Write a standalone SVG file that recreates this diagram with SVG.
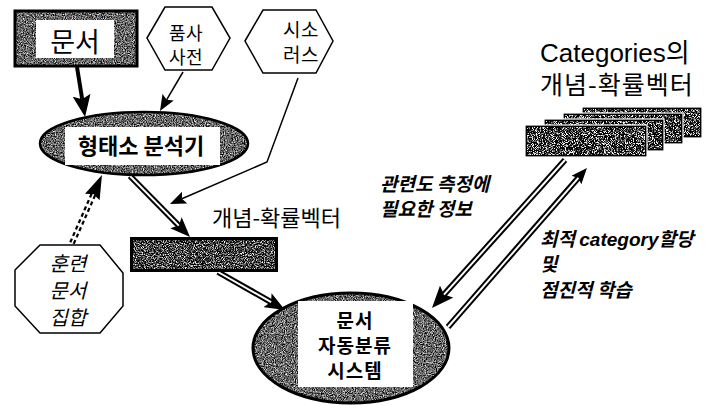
<svg xmlns="http://www.w3.org/2000/svg" width="716" height="405" viewBox="0 0 716 405">
<style>
.k{font-family:"Noto Sans CJK KR","Liberation Sans",sans-serif;fill:#000}
.b{font-weight:bold}
.it{font-style:italic;font-weight:bold}
.itr{font-style:italic}
.mid{text-anchor:middle}
.ln{fill:none;stroke:#000}
.dbl{fill:none;stroke:#000;stroke-width:6}
.dblw{fill:none;stroke:#fff;stroke-width:2}
.sh{fill:#fff;stroke:#000;stroke-width:1.5}
</style>
<defs>
<filter id="fg" x="-5%" y="-5%" width="110%" height="110%" color-interpolation-filters="sRGB">
<feTurbulence type="fractalNoise" baseFrequency="0.9" numOctaves="2" seed="4"/>
<feColorMatrix type="matrix" values="1.8 0 0 0 -0.5  1.8 0 0 0 -0.5  1.8 0 0 0 -0.5  0 0 0 0 1"/>
<feComposite in2="SourceGraphic" operator="in"/>
</filter>
<filter id="fd" x="-5%" y="-5%" width="110%" height="110%" color-interpolation-filters="sRGB">
<feTurbulence type="fractalNoise" baseFrequency="0.9" numOctaves="2" seed="7"/>
<feColorMatrix type="matrix" values="3 0 0 0 -1.25  3 0 0 0 -1.25  3 0 0 0 -1.25  0 0 0 0 1"/>
<feComposite in2="SourceGraphic" operator="in"/>
</filter>
<filter id="fc" x="-5%" y="-5%" width="110%" height="110%" color-interpolation-filters="sRGB">
<feTurbulence type="fractalNoise" baseFrequency="1.1" numOctaves="2" seed="11"/>
<feColorMatrix type="matrix" values="5 0 0 0 -2.35  5 0 0 0 -2.35  5 0 0 0 -2.35  0 0 0 0 1"/>
<feComposite in2="SourceGraphic" operator="in"/>
</filter>
<marker id="ahL" markerUnits="userSpaceOnUse" markerWidth="22" markerHeight="18" refX="4" refY="9" orient="auto">
<path d="M0,0 L22,9 L0,18 L4,9 z" fill="#000"/>
</marker>
<marker id="ah" markerUnits="userSpaceOnUse" markerWidth="20" markerHeight="16" refX="4" refY="8" orient="auto">
<path d="M0,0 L20,8 L0,16 L4,8 z" fill="#000"/>
</marker>
<marker id="ahs" markerUnits="userSpaceOnUse" markerWidth="16" markerHeight="13" refX="3" refY="6.5" orient="auto">
<path d="M0,0 L16,6.5 L0,13 L3,6.5 z" fill="#000"/>
</marker>
<marker id="ahD" markerUnits="userSpaceOnUse" markerWidth="24" markerHeight="16" refX="3" refY="8" orient="auto">
<path d="M0,0 L24,8 L0,16 L3,8 z" fill="#000"/>
</marker>
</defs>
<rect width="716" height="405" fill="#fff"/>

<g id="connectors">
<path class="ln" d="M77,67 L82.2,99.2" stroke-width="4" marker-end="url(#ahL)"/>
<path class="ln" d="M183,72 L166.6,99.8" stroke-width="1.5" marker-end="url(#ahs)"/>
<path class="ln" d="M298,78 L267,162 L181.9,198.8" stroke-width="1.5" marker-end="url(#ahs)"/>
<path class="dbl" d="M130,176 L178.8,225.6" marker-end="url(#ah)"/>
<path class="dblw" d="M130,176 L178.8,225.6"/>
<path class="ln" d="M72,243 L93.5,194.2" stroke-width="6" stroke-dasharray="4 3" marker-end="url(#ahD)"/>
<path d="M72,243 L93.5,194.2" stroke="#fff" stroke-width="1.6" fill="none"/>
<path class="dbl" d="M218,272 L271.1,302.1" marker-end="url(#ah)"/>
<path class="dblw" d="M218,272 L271.1,302.1"/>
<path class="dbl" d="M565,160 L444,294.6" marker-end="url(#ahL)"/>
<path class="dblw" d="M565,160 L444,294.6"/>
<path class="dbl" d="M448,327 L578.4,177.8" marker-end="url(#ahs)"/>
<path class="dblw" d="M448,327 L578.4,177.8"/>
</g>

<g id="doc">
<rect x="15" y="11" width="122" height="55" fill="#222"/>
<rect x="15" y="11" width="122" height="55" filter="url(#fg)"/>
<rect x="15" y="11" width="122" height="55" fill="none" stroke="#000" stroke-width="3"/>
<rect x="36" y="20" width="78" height="38" fill="#fff"/>
<text class="k mid" x="75" y="52" font-size="27">문서</text>
</g>

<g id="pos-dict">
<polygon class="sh" points="147,38 165,7 212,7 230,38 212,70 165,70"/>
<text class="k mid" x="186" y="40" font-size="18" letter-spacing="0.5">품사</text>
<text class="k mid" x="186" y="64" font-size="18" letter-spacing="0.5">사전</text>
</g>

<g id="thesaurus">
<polygon class="sh" points="245,41 263,10 316,10 333,41 316,73 263,73"/>
<text class="k mid" x="301" y="37" font-size="19" letter-spacing="0.5">시소</text>
<text class="k mid" x="301" y="62" font-size="19" letter-spacing="0.5">러스</text>
</g>

<g id="morph">
<ellipse cx="144" cy="143.5" rx="104" ry="31.5" fill="#222"/>
<ellipse cx="144" cy="143.5" rx="104" ry="31.5" filter="url(#fg)"/>
<ellipse cx="144" cy="143.5" rx="104" ry="31.5" fill="none" stroke="#000" stroke-width="2.5"/>
<rect x="65" y="127" width="155" height="38" fill="#fff"/>
<text class="k b mid" x="141" y="154" font-size="22">형태소 분석기</text>
</g>

<g id="train">
<polygon class="sh" points="15,270 40,245 100,245 123,273 123,306 100,333 40,333 15,306"/>
<text class="k itr mid" x="68" y="271" font-size="20">훈련</text>
<text class="k itr mid" x="68" y="298" font-size="20">문서</text>
<text class="k itr mid" x="68" y="325" font-size="20">집합</text>
</g>

<g id="vector">
<text class="k" x="212" y="226" font-size="22">개념-확률벡터</text>
<rect x="130" y="237" width="148" height="35" fill="#000"/>
<rect x="133" y="240" width="142" height="29" filter="url(#fd)"/>
</g>

<g id="classifier">
<ellipse cx="351" cy="348" rx="98" ry="55" fill="#222"/>
<ellipse cx="351" cy="348" rx="98" ry="55" filter="url(#fg)"/>
<ellipse cx="351" cy="348" rx="98" ry="55" fill="none" stroke="#000" stroke-width="3"/>
<rect x="298" y="301" width="115" height="86" fill="#fff"/>
<text class="k b mid" x="355" y="328" font-size="19" letter-spacing="1">문서</text>
<text class="k b mid" x="355" y="353" font-size="19" letter-spacing="1">자동분류</text>
<text class="k b mid" x="355" y="378" font-size="19" letter-spacing="1">시스템</text>
</g>

<g id="categories">
<text class="k" x="540" y="62" font-size="26" style="font-family:'Liberation Sans','Noto Sans CJK KR',sans-serif">Categories의</text>
<text class="k" x="540" y="94" font-size="25" letter-spacing="1">개념-확률벡터</text>
<rect x="582" y="107" width="120" height="31" fill="#000" stroke="#fff" stroke-width="1.2"/>
<rect x="584" y="109" width="116" height="27" filter="url(#fc)"/>
<rect x="563" y="113" width="120" height="31" fill="#000" stroke="#fff" stroke-width="1.2"/>
<rect x="565" y="115" width="116" height="27" filter="url(#fc)"/>
<rect x="544" y="119" width="120" height="32" fill="#000" stroke="#fff" stroke-width="1.2"/>
<rect x="546" y="121" width="116" height="28" filter="url(#fc)"/>
<rect x="525" y="125" width="122" height="32" fill="#000" stroke="#fff" stroke-width="1.2"/>
<rect x="527" y="127" width="118" height="28" filter="url(#fc)"/>
</g>

<g id="labels">
<text class="k it" x="380" y="191" font-size="19">관련도 측정에</text>
<text class="k it" x="380" y="216" font-size="19">필요한 정보</text>
<text class="k it" x="540" y="246" font-size="19">최적 <tspan style="font-family:'Liberation Sans',sans-serif">category</tspan>할당</text>
<text class="k it" x="540" y="271" font-size="19">및</text>
<text class="k it" x="540" y="297" font-size="19">점진적 학습</text>
</g>
</svg>
